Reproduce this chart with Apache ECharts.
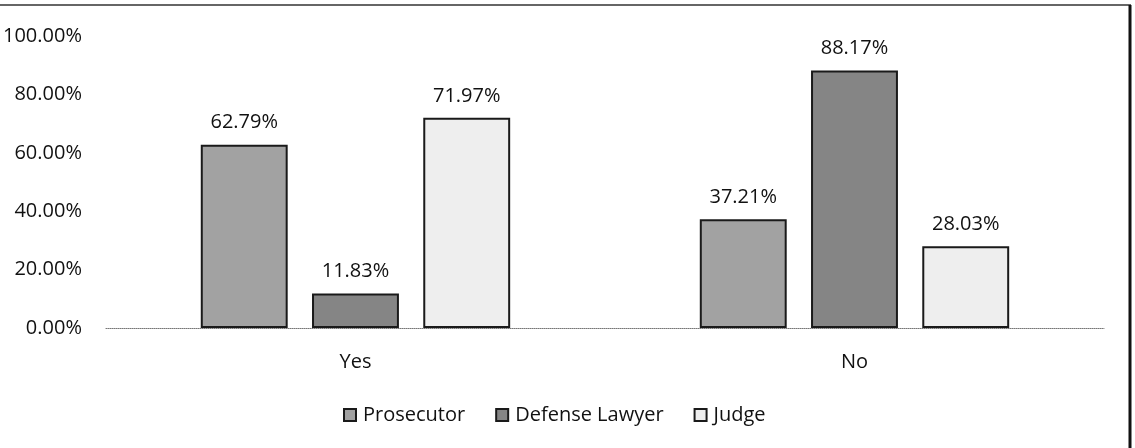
<!DOCTYPE html>
<html><head><meta charset="utf-8">
<script src="https://cdn.jsdelivr.net/npm/echarts@6/dist/echarts.min.js"></script>
<style>html,body{margin:0;padding:0;background:#fff}#c{width:1135px;height:448px}</style>
</head><body><div id="c"></div>
<script>
const categories = ['Yes', 'No'];
const seriesNames = ['Prosecutor', 'Defense Lawyer', 'Judge'];
const prosecutor = [62.79, 37.21];
const defenseLawyer = [11.83, 88.17];
const judge = [71.97, 28.03];
const yTicks = [0, 20, 40, 60, 80, 100];

const font = '"Open Sans", Lato, sans-serif';
const fills = ['#a2a2a2', '#858585', '#eeeeee'];
const values = [prosecutor, defenseLawyer, judge];

const chart = echarts.init(document.getElementById('c'));
chart.setOption({
  animation: false,
  backgroundColor: '#fff',
  graphic: [
    {type: 'line', shape: {x1: 0, y1: 5, x2: 1131, y2: 5}, style: {stroke: '#333', lineWidth: 1.5}, silent: true},
    {type: 'line', shape: {x1: 1130, y1: 5, x2: 1130, y2: 448}, style: {stroke: '#111', lineWidth: 3}, silent: true}
  ],
  grid: {left: 105, right: 31, top: 36, bottom: 120},
  legend: {
    top: 400, left: 338, icon: 'rect', itemWidth: 12, itemHeight: 12, itemGap: 30,
    textStyle: {fontFamily: font, fontSize: 20, color: '#111', padding: [0, 0, 0, 2]},
    data: seriesNames
  },
  xAxis: {
    type: 'category', data: categories,
    axisLine: {lineStyle: {color: '#777', width: 1, type: 'dotted'}},
    axisTick: {show: false},
    axisLabel: {margin: 24, fontFamily: font, fontSize: 20, color: '#111'}
  },
  yAxis: {
    type: 'value', min: 0, max: 100, interval: 20,
    splitLine: {show: false}, axisLine: {show: false}, axisTick: {show: false},
    axisLabel: {margin: 24, fontFamily: font, fontSize: 20, color: '#111',
      formatter: v => yTicks.includes(v) ? v.toFixed(2) + '%' : ''}
  },
  series: seriesNames.map((n, i) => ({
    name: n, type: 'bar', data: values[i],
    barCategoryGap: '38%', barGap: '28%',
    itemStyle: {color: fills[i], borderColor: '#1a1a1a', borderWidth: 2},
    label: {show: true, position: 'top', distance: 12, fontFamily: font, fontSize: 20, color: '#111',
      formatter: p => p.value.toFixed(2) + '%'}
  }))
});
</script></body></html>
